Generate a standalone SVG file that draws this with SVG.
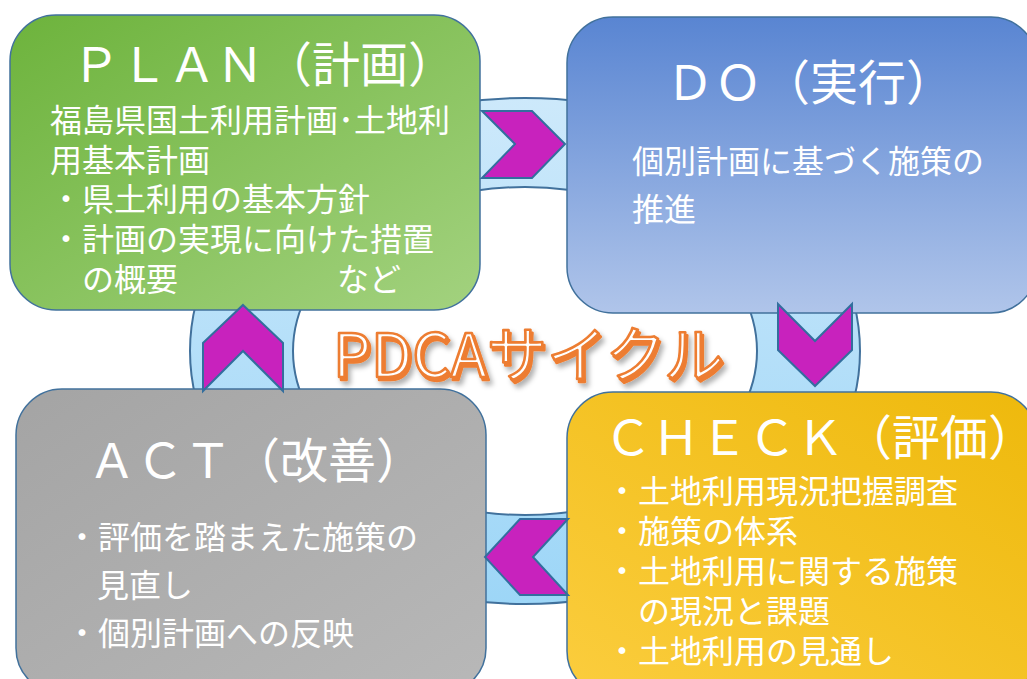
<svg xmlns="http://www.w3.org/2000/svg" width="1027" height="679" viewBox="0 0 1027 679">
<defs>
<linearGradient id="gRing" x1="0" y1="0" x2="0" y2="1"><stop offset="0" stop-color="#cde9fb"/><stop offset="1" stop-color="#9dd6f7"/></linearGradient>
<linearGradient id="gPlan" x1="0" y1="0" x2="1" y2="1"><stop offset="0" stop-color="#6db33c"/><stop offset="1" stop-color="#a3d27f"/></linearGradient>
<linearGradient id="gDo" x1="0" y1="0" x2="0" y2="1"><stop offset="0" stop-color="#5985d2"/><stop offset="1" stop-color="#b0c5ea"/></linearGradient>
<linearGradient id="gAct" x1="0" y1="0" x2="1" y2="1"><stop offset="0" stop-color="#a4a4a4"/><stop offset="1" stop-color="#b8b8b8"/></linearGradient>
<linearGradient id="gCheck" x1="1" y1="0" x2="0" y2="1"><stop offset="0" stop-color="#eeb90c"/><stop offset="1" stop-color="#fbcd3e"/></linearGradient>
<filter id="shadow" x="-10%" y="-30%" width="130%" height="170%"><feDropShadow dx="3" dy="4" stdDeviation="2.5" flood-color="#000" flood-opacity="0.3"/></filter>
<style>
.box{stroke:#41719c;stroke-width:1.5}
.t{font-family:"Noto Sans CJK JP","Noto Sans CJK SC",sans-serif;fill:#fff}
.title{font-size:48px}
.body{font-size:32px}
.chev{fill:#c822bd;stroke:#336e9e;stroke-width:2;stroke-linejoin:miter}
.ring{fill:url(#gRing);stroke:#41719c;stroke-width:2;fill-rule:evenodd}
.pdca{font-family:"Noto Sans CJK JP","Noto Sans CJK SC",sans-serif;font-size:60px;font-weight:400;stroke:#ed7d31;stroke-width:2.6;stroke-linejoin:round}
</style>
</defs>
<rect width="1027" height="679" fill="#fff"/>
<g id="ring">
<path class="ring" d="M190,351 a335,253 0 1,0 670,0 a335,253 0 1,0 -670,0 Z M293,351 a232,164 0 1,1 464,0 a232,164 0 1,1 -464,0 Z"/>
</g>
<g id="plan">
<rect class="box" x="10" y="15" width="470" height="295" rx="46" fill="url(#gPlan)"/>
<text class="t title" x="72" y="82">ＰＬＡＮ（計画）</text>
<text class="t body" x="50" y="132">福島県国土利用計画･土地利</text>
<text class="t body" x="50" y="172">用基本計画</text>
<text class="t body" x="50" y="211">・県土利用の基本方針</text>
<text class="t body" x="50" y="251">・計画の実現に向けた措置</text>
<text class="t body" x="82" y="291">の概要<tspan x="337">など</tspan></text>
</g>
<g id="do">
<rect class="box" x="567" y="17" width="470" height="296" rx="46" fill="url(#gDo)"/>
<text class="t title" x="666" y="100">ＤＯ（実行）</text>
<text class="t body" x="632" y="173">個別計画に基づく施策の</text>
<text class="t body" x="632" y="221">推進</text>
</g>
<g id="act">
<rect class="box" x="16" y="389" width="470" height="305" rx="46" fill="url(#gAct)"/>
<text class="t title" x="88" y="478">ＡＣＴ（改善）</text>
<text class="t body" x="66" y="549">・評価を踏まえた施策の</text>
<text class="t body" x="97" y="597">見直し</text>
<text class="t body" x="66" y="645">・個別計画への反映</text>
</g>
<g id="check">
<rect class="box" x="567" y="392" width="470" height="305" rx="46" fill="url(#gCheck)"/>
<text class="t title" x="604" y="455">ＣＨＥＣＫ（評価）</text>
<text class="t body" x="606" y="503">・土地利用現況把握調査</text>
<text class="t body" x="606" y="543">・施策の体系</text>
<text class="t body" x="606" y="583">・土地利用に関する施策</text>
<text class="t body" x="638" y="623">の現況と課題</text>
<text class="t body" x="606" y="663">・土地利用の見通し</text>
</g>
<g id="connectors">
<polygon class="chev" points="482,111 532,111 565,144 532,178 482,178 515,144"/>
<polygon class="chev" points="778,304 815,341 852,304 852,350 815,386 778,350"/>
<polygon class="chev" points="485,557 520,519 568,519 533,557 568,595 520,595"/>
<polygon class="chev" points="243,305 283,343 283,391 243,351 203,391 203,343"/>
</g>
<g id="label" filter="url(#shadow)">
<text class="pdca" x="335" y="380" fill="#ed7d31">PDCAサイクル</text>
<text class="pdca" x="333" y="377" fill="#fff">PDCAサイクル</text>
</g>
</svg>
